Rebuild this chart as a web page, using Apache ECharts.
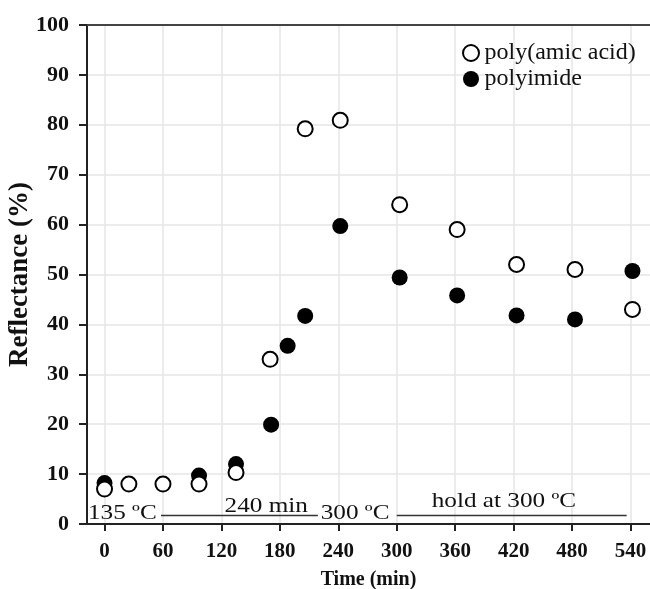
<!DOCTYPE html>
<html>
<head>
<meta charset="utf-8">
<script src="https://cdn.jsdelivr.net/npm/echarts@6/dist/echarts.min.js"></script>
<style>
    html, body { margin: 0; padding: 0; background: #fff; }
    #chart { width: 650px; height: 589px; }
</style>
</head>
<body>
<div id="chart"></div>
<script>
// time (min) and reflectance (%)
var amicTime = [0, 25, 60, 97, 135, 170, 206, 242, 303, 362, 423, 483, 542];
var amicValue = [7, 8, 8, 8, 10.3, 33, 79.2, 80.9, 64, 59, 52, 51, 43];
var imideTime = [0, 97, 135, 171, 188, 206, 242, 303, 362, 423, 483, 542];
var imideValue = [8.2, 9.7, 12, 19.9, 35.7, 41.7, 59.7, 49.4, 45.8, 41.8, 41, 50.7];
var xTicks = [0, 60, 120, 180, 240, 300, 360, 420, 480, 540];
var seriesNames = ['poly(amic acid)', 'polyimide'];

function pairs(xs, ys) {
    return xs.map(function (x, i) { return [x, ys[i]]; });
}

var serif = '"Liberation Serif", "DejaVu Serif", serif';
var chart = echarts.init(document.getElementById('chart'));

var option = {
    animation: false,
    grid: { left: 87, top: 25, bottom: 65, right: 0, containLabel: false, outerBoundsMode: 'none' },
    legend: {
        data: seriesNames,
        orient: 'vertical',
        left: 457, top: 36,
        itemGap: 2,
        itemWidth: 17, itemHeight: 16,
        icon: 'circle',
        textStyle: { fontFamily: serif, fontSize: 24, color: '#111' }
    },
    xAxis: [{
        type: 'value',
        min: -18, max: 560,
        name: 'Time (min)',
        nameLocation: 'middle',
        nameGap: 46,
        nameTextStyle: { fontFamily: serif, fontSize: 20, fontWeight: 'bold', color: '#111' },
        axisLine: { show: true, onZero: false, lineStyle: { color: '#222', width: 2 } },
        axisTick: { show: true, customValues: xTicks, length: 7, lineStyle: { color: '#222', width: 2 } },
        axisLabel: { customValues: xTicks, fontFamily: serif, fontSize: 21, fontWeight: 'bold', color: '#111', margin: 17 },
        splitLine: { show: true, lineStyle: { color: '#e6e6e6', width: 1.5 } }
    }, {
        // top frame line only
        type: 'value',
        position: 'top',
        min: -18, max: 560,
        axisLine: { show: true, onZero: false, lineStyle: { color: '#444', width: 2 } },
        axisTick: { show: false },
        axisLabel: { show: false },
        splitLine: { show: false }
    }],
    yAxis: {
        type: 'value',
        min: 0, max: 100, interval: 10,
        name: 'Reflectance (%)',
        nameLocation: 'middle',
        nameGap: 53,
        nameMoveOverlap: false,
        nameTextStyle: { fontFamily: serif, fontSize: 27, fontWeight: 'bold', color: '#111' },
        axisLine: { show: true, onZero: false, lineStyle: { color: '#222', width: 2 } },
        axisTick: { show: true, length: 8, lineStyle: { color: '#222', width: 2 } },
        axisLabel: { fontFamily: serif, fontSize: 22, fontWeight: 'bold', color: '#111', margin: 18 },
        splitLine: { show: true, lineStyle: { color: '#e6e6e6', width: 1.5 } }
    },
    series: [
        {
            name: seriesNames[1],
            type: 'scatter',
            symbol: 'circle',
            symbolSize: 16,
            itemStyle: { color: '#000', opacity: 1 },
            data: pairs(imideTime, imideValue)
        },
        {
            name: seriesNames[0],
            type: 'scatter',
            symbol: 'circle',
            symbolSize: 15,
            itemStyle: { color: '#fff', borderColor: '#000', borderWidth: 2, opacity: 1 },
            data: pairs(amicTime, amicValue)
        }
    ]
};
chart.setOption(option);

// temperature program annotations along the bottom, placed in data units
var notes = [
    { text: '135 ºC', at: [-17, 2.2], align: 'left' },
    { text: '240 min', at: [166, 3.5], align: 'center' },
    { text: '300 ºC', at: [222, 2.2], align: 'left' },
    { text: 'hold at 300 ºC', at: [410, 4.6], align: 'center' }
];
var rules = [
    [[58, 1.7], [219, 1.7]],
    [[300, 1.7], [536, 1.7]]
];
var elements = [];
notes.forEach(function (n) {
    var p = chart.convertToPixel({ gridIndex: 0 }, n.at);
    elements.push({
        type: 'text', x: p[0], y: p[1], z: 10, scaleX: 1.2,
        style: {
            text: n.text, fill: '#111', font: '21px ' + serif,
            textAlign: n.align, textVerticalAlign: 'middle'
        }
    });
});
rules.forEach(function (r) {
    var a = chart.convertToPixel({ gridIndex: 0 }, r[0]);
    var b = chart.convertToPixel({ gridIndex: 0 }, r[1]);
    elements.push({
        type: 'line', z: 10,
        shape: { x1: a[0], y1: a[1], x2: b[0], y2: b[1] },
        style: { stroke: '#333', lineWidth: 1.5 }
    });
});
chart.setOption({ graphic: elements });
</script>
</body>
</html>
